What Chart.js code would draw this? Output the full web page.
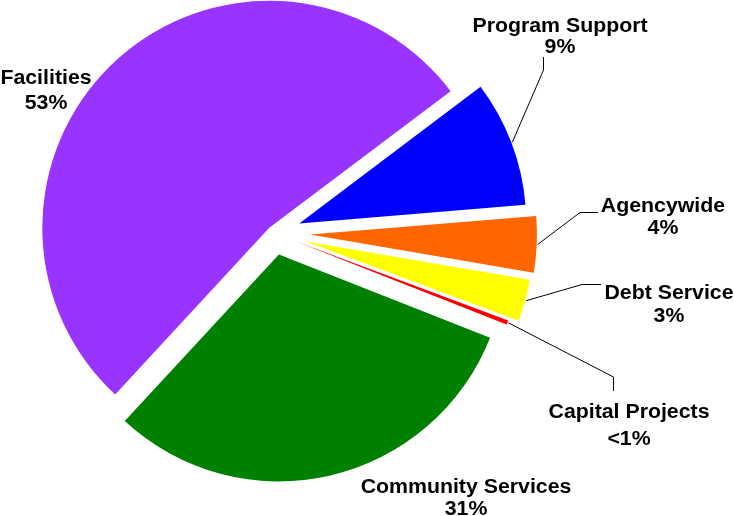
<!DOCTYPE html>
<html lang="en">
<head>
  <meta charset="UTF-8" />
  <title>Budget by Program Area</title>
  <script src="https://cdn.jsdelivr.net/npm/chart.js"></script>
  <style>
    body {
      margin: 0;
      background: #fff;
    }

    .chart-box {
      width: 733px;
      height: 516px;
      position: relative;
    }
  </style>
</head>
<body>

  <div class="chart-box">
    <canvas id="budgetPie"></canvas>
  </div>

<script>
  // Shares of the budget, clockwise from Program Support
  const categories = ['Program Support', 'Agencywide', 'Debt Service', 'Capital Projects', 'Community Services', 'Facilities'];
  const shares = [9, 4, 3, 0.3, 31, 53];
  const shareLabels = ['9%', '4%', '3%', '<1%', '31%', '53%'];

  const sliceColors = ['#0000FF', '#FF6600', '#FFFF00', '#FF0000', '#008000', '#9933FF'];
  // how far each slice is pulled out from the centre (px)
  const explodeBy = [27, 36, 33, 23, 22, 7];

  // label placement: centre x, baselines of the two lines, leader elbow points
  const labelSpots = [
    { x: 560, y: [31.5, 52.5], leader: [[543.5, 70], [543.5, 57]] },
    { x: 663, y: [211.5, 233.5], leader: [[580, 212.5], [598, 212.5]] },
    { x: 669, y: [298.5, 321.5], leader: [[582, 284.5], [601, 284.5]] },
    { x: 629, y: [417.5, 444.5], leader: [[613.5, 377], [613.5, 391]] },
    { x: 466, y: [492.5, 514.5], leader: null },
    { x: 46, y: [84, 108.5], leader: null }
  ];

  const midAngle = arc => (arc.startAngle + arc.endAngle) / 2;

  // draw each slice pulled out along its middle angle
  const explodePlugin = {
    id: 'explode',
    beforeDatasetDraw(chart, args) {
      const ctx = chart.ctx;
      args.meta.data.forEach((arc, i) => {
        const a = midAngle(arc);
        ctx.save();
        ctx.translate(Math.cos(a) * explodeBy[i], Math.sin(a) * explodeBy[i]);
        arc.draw(ctx);
        ctx.restore();
      });
      return false;
    }
  };

  const labelPlugin = {
    id: 'sliceLabels',
    afterDraw(chart) {
      const ctx = chart.ctx;
      const arcs = chart.getDatasetMeta(0).data;
      ctx.save();

      // leader lines
      ctx.strokeStyle = '#000';
      ctx.lineWidth = 1;
      arcs.forEach((arc, i) => {
        const spot = labelSpots[i];
        if (!spot.leader) return;
        const a = midAngle(arc);
        const r = arc.outerRadius + explodeBy[i] + 1;
        ctx.beginPath();
        ctx.moveTo(arc.x + Math.cos(a) * r, arc.y + Math.sin(a) * r);
        spot.leader.forEach(p => ctx.lineTo(p[0], p[1]));
        ctx.stroke();
      });

      // text, slightly widened
      ctx.fillStyle = '#000';
      ctx.font = 'bold 20px "Liberation Sans", Arial, sans-serif';
      ctx.textAlign = 'center';
      ctx.textBaseline = 'alphabetic';
      categories.forEach((name, i) => {
        const spot = labelSpots[i];
        [name, shareLabels[i]].forEach((txt, k) => {
          ctx.save();
          ctx.translate(spot.x, spot.y[k]);
          ctx.scale(1.065, 1);
          ctx.fillText(txt, 0, 0);
          ctx.restore();
        });
      });
      ctx.restore();
    }
  };

  new Chart(document.getElementById('budgetPie'), {
    type: 'pie',
    data: {
      labels: categories,
      datasets: [{
        data: shares,
        backgroundColor: sliceColors,
        borderWidth: 0
      }]
    },
    options: {
      responsive: true,
      maintainAspectRatio: false,
      animation: false,
      events: [],
      rotation: 53,
      radius: 227,
      layout: {
        padding: { left: 0, right: 185, top: 0, bottom: 50 }
      },
      plugins: {
        legend: { display: false },
        tooltip: { enabled: false }
      }
    },
    plugins: [explodePlugin, labelPlugin]
  });
</script>
</body>
</html>
